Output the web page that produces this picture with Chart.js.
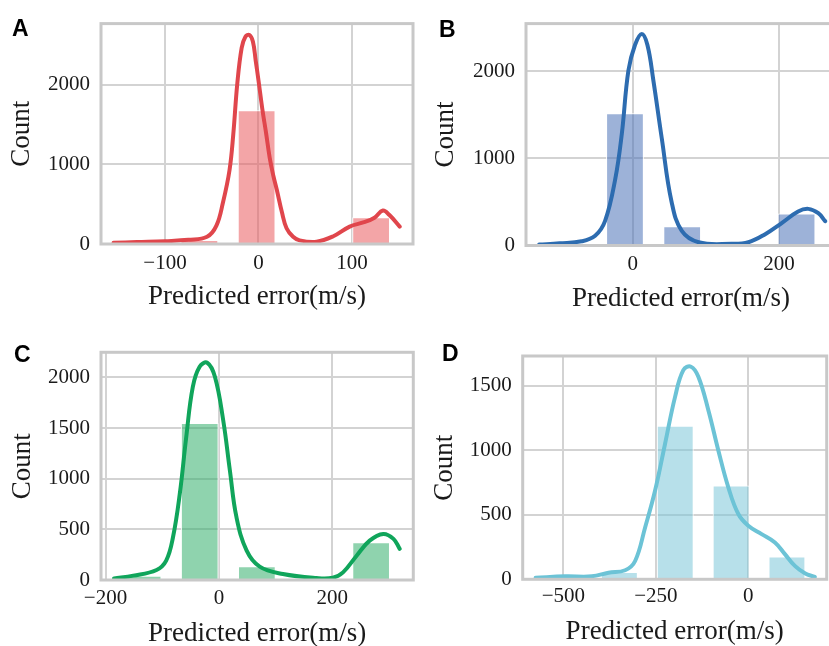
<!DOCTYPE html>
<html><head><meta charset="utf-8">
<script src="https://cdn.jsdelivr.net/npm/chart.js@4/dist/chart.umd.min.js"></script>
<style>
html,body{margin:0;padding:0;background:#fff;overflow:hidden;width:829px;height:646px;position:relative;}
canvas{position:absolute;}
.lbl{position:absolute;font:bold 23px "Liberation Sans",Arial,sans-serif;line-height:1;color:#000;}
</style></head><body>
<canvas id="cA"></canvas>
<canvas id="cB"></canvas>
<canvas id="cC"></canvas>
<canvas id="cD"></canvas>
<div class="lbl" style="left:12px;top:17px">A</div>
<div class="lbl" style="left:439px;top:18px">B</div>
<div class="lbl" style="left:14px;top:343px">C</div>
<div class="lbl" style="left:442px;top:342px">D</div>
<script>
// ---------- data ----------
const xTitle = 'Predicted error(m/s)';
const yTitle = 'Count';

const xTicksA = [-100, 0, 100];
const yTicksA = [0, 1000, 2000];
const binCentersA = [-124.4, -63.2, -2, 59.2, 120.4];
const countsA = [10, 50, 1676, 8, 336];
const kdeXA = [-155, -130, -100, -75, -55, -45, -38, -31, -27, -22.7, -18, -14, -9.8, -6, -3, 0, 4, 8, 12, 16, 19.5, 25, 30, 37, 44, 62, 80, 97.5, 112, 124, 133, 140, 151];
const kdeYA = [15, 25, 36, 52, 90, 230, 520, 925, 1370, 2008, 2460, 2600, 2622, 2540, 2300, 2050, 1700, 1400, 1080, 850, 683, 400, 198, 90, 45, 28, 97, 218, 270, 330, 420, 363, 218];

const xTicksB = [0, 200];
const yTicksB = [0, 1000, 2000];
const binCentersB = [-88.9, -10.7, 67.5, 145.7, 223.9];
const countsB = [8, 1516, 220, 6, 368];
const kdeXB = [-128, -100, -70, -51.5, -38, -24, -15, -6, 3, 12.3, 20, 28, 39.6, 53, 67, 90, 135, 158, 181, 204, 226, 240, 253.6, 263];
const kdeYB = [11, 25, 48, 111, 279, 761, 1282, 2007, 2300, 2427, 2300, 1900, 1230, 502, 167, 37, 19, 37, 130, 260, 390, 420, 371, 279];

const xTicksC = [-200, 0, 200];
const yTicksC = [0, 500, 1000, 1500, 2000];
const binCentersC = [-134.6, -33.8, 67, 167.8, 268.6];
const countsC = [43, 1550, 135, 5, 372];
const kdeXC = [-185, -151, -110, -93, -81, -69, -57.6, -46, -34, -20.6, -7, 7.6, 19.4, 31, 49, 72, 113, 172, 201, 219, 243, 266, 290, 308, 319];
const kdeYC = [16, 43, 99, 191, 422, 851, 1412, 1907, 2105, 2145, 2006, 1577, 1082, 620, 290, 132, 59, 20, 23, 75, 240, 389, 455, 406, 307];

const xTicksD = [-500, -250, 0];
const yTicksD = [0, 500, 1000, 1500];
const binCentersD = [-499.5, -348.5, -197.5, -46.5, 104.5];
const countsD = [12, 57, 1191, 727, 176];
const kdeXD = [-575, -495, -423, -378, -333, -306, -279, -252, -225, -198, -175.7, -155, -135, -108, -81, -54, -27, 0, 36, 72, 99, 126, 153, 180];
const kdeYD = [12, 23, 23, 51, 70, 142, 402, 688, 1051, 1414, 1622, 1648, 1570, 1311, 999, 713, 506, 415, 350, 285, 195, 104, 47, 18];

// ---------- drawing ----------
const SERIF = '"Liberation Serif","Times New Roman",serif';
const TXT = '#1a1a1a';
const fmt = v => (v < 0 ? '\u2212' + Math.abs(v) : String(v));

const framePlugin = {
  id: 'frame',
  afterDraw(chart) {
    const {ctx, chartArea: a} = chart;
    ctx.save();
    ctx.strokeStyle = '#c8c8c8';
    ctx.lineWidth = 3;
    ctx.strokeRect(a.left, a.top, a.right - a.left, a.bottom - a.top);
    ctx.restore();
  }
};

function panel(p) {
  const cv = document.getElementById(p.id);
  cv.width = p.W; cv.height = p.H;
  cv.style.left = p.X + 'px'; cv.style.top = p.Y + 'px';
  cv.style.width = p.W + 'px'; cv.style.height = p.H + 'px';
  const lh = 27 * 1.2;
  new Chart(cv, {
    type: 'bar',
    data: {
      datasets: [
        {
          type: 'line',
          data: p.kx.map((x, i) => ({x, y: p.ky[i]})),
          borderColor: p.line, borderWidth: 4, pointRadius: 0,
          tension: 0.4, fill: false, order: 0, borderCapStyle: 'round', borderJoinStyle: 'round'
        },
        {
          type: 'bar',
          data: p.bx.map((x, i) => ({x, y: p.by[i]})),
          backgroundColor: p.bar, borderColor: '#ffffff', borderWidth: 1,
          borderSkipped: 'start',
          barPercentage: 0.66, categoryPercentage: 1, order: 1
        }
      ]
    },
    options: {
      responsive: false, animation: false, devicePixelRatio: 1,
      layout: {padding: {left: 0, top: p.T - p.Y, right: p.X + p.W - p.R, bottom: 0}},
      plugins: {legend: {display: false}, tooltip: {enabled: false}},
      scales: {
        x: {
          type: 'linear', min: p.xmin, max: p.xmax, offset: false,
          grid: {color: '#d3d3d3', lineWidth: 2, drawTicks: false, offset: false},
          border: {display: false},
          ticks: {font: {family: SERIF, size: 21}, color: TXT, padding: p.xtp, maxRotation: 0, callback: fmt},
          afterBuildTicks: s => { s.ticks = p.xt.map(v => ({value: v})); },
          afterFit: s => { s.height = p.Y + p.H - p.B; },
          title: {display: true, text: xTitle, color: TXT, font: {family: SERIF, size: 27},
                  padding: {top: 0, bottom: p.Y + p.H - p.xtc - lh / 2}}
        },
        y: {
          type: 'linear', min: 0, max: p.ymax,
          grid: {color: '#d3d3d3', lineWidth: 2, drawTicks: false},
          border: {display: false},
          ticks: {font: {family: SERIF, size: 21}, color: TXT, padding: 11, callback: fmt},
          afterBuildTicks: s => { s.ticks = p.yt.map(v => ({value: v})); },
          afterFit: s => { s.width = p.L - p.X; },
          title: {display: true, text: yTitle, color: TXT, font: {family: SERIF, size: 27},
                  padding: {top: p.ytc - p.X - lh / 2, bottom: 0}}
        }
      }
    },
    plugins: [framePlugin]
  });
}

panel({id: 'cA', X: 0, Y: 0, W: 415, H: 320, L: 101, T: 15, R: 413, B: 244,
  xmin: -168.4, xmax: 165.2, ymax: 2764, xt: xTicksA, yt: yTicksA,
  bx: binCentersA, by: countsA, kx: kdeXA, ky: kdeYA, xtp: 7, xtc: 297, ytc: 22,
  line: '#e0464c', bar: 'rgba(233,91,95,0.55)'});
panel({id: 'cB', X: 415, Y: 0, W: 425, H: 320, L: 526, T: 16.7, R: 836, B: 245.5,
  xmin: -146, xmax: 277.8, ymax: 2545, xt: xTicksB, yt: yTicksB,
  bx: binCentersB, by: countsB, kx: kdeXB, ky: kdeYB, xtp: 6, xtc: 298.5, ytc: 446,
  line: '#2d6cb0', bar: 'rgba(77,115,184,0.55)'});
panel({id: 'cC', X: 0, Y: 320, W: 415, H: 340, L: 101, T: 352.3, R: 413.3, B: 580,
  xmin: -208, xmax: 343, ymax: 2248, xt: xTicksC, yt: yTicksC,
  bx: binCentersC, by: countsC, kx: kdeXC, ky: kdeYC, xtp: 6, xtc: 633.5, ytc: 22.5,
  line: '#10a55b', bar: 'rgba(51,175,108,0.55)'});
panel({id: 'cD', X: 415, Y: 320, W: 414, H: 340, L: 522.7, T: 356, R: 826.7, B: 579.3,
  xmin: -610, xmax: 212, ymax: 1731, xt: xTicksD, yt: yTicksD,
  bx: binCentersD, by: countsD, kx: kdeXD, ky: kdeYD, xtp: 5, xtc: 632, ytc: 445,
  line: '#6cc3d6', bar: 'rgba(124,199,217,0.55)'});
</script>
</body></html>
